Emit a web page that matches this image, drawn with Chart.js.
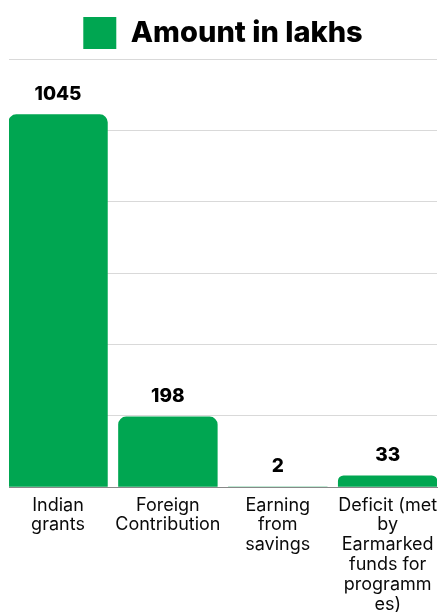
<!DOCTYPE html>
<html>
<head>
<meta charset="utf-8">
<script src="https://cdn.jsdelivr.net/npm/chart.js@4"></script>
<style>
html,body{margin:0;padding:0;background:#fff;}
#wrap{width:444px;height:612px;}
</style>
</head>
<body>
<div id="wrap"><canvas id="c" width="444" height="612"></canvas></div>
<script>
const categories = [
  ["Indian", "grants"],
  ["Foreign", "Contribution"],
  ["Earning", "from", "savings"],
  ["Deficit (met", "by", "Earmarked", "funds for", "programm", "es)"]
];
const seriesName = "Amount in lakhs";
const amounts = [1045, 198, 2, 33];
const yTicks = [0, 200, 400, 600, 800, 1000, 1200];

const GREEN = "#00A651";
const FONT = "Inter";

const valueLabels = {
  id: "valueLabels",
  afterDatasetsDraw(chart) {
    const ctx = chart.ctx;
    const meta = chart.getDatasetMeta(0);
    ctx.save();
    ctx.font = "800 19px " + FONT;
    ctx.fillStyle = "#000";
    ctx.textAlign = "center";
    ctx.textBaseline = "middle";
    meta.data.forEach((bar, i) => {
      ctx.fillText(String(amounts[i]), bar.x, bar.y - 20);
    });
    ctx.restore();
  }
};

new Chart(document.getElementById("c"), {
  type: "bar",
  data: {
    datasets: [{
      label: seriesName,
      data: amounts.map((v, i) => ({ x: i, y: v })),
      backgroundColor: GREEN,
      borderRadius: { topLeft: 8, topRight: 8, bottomLeft: 0, bottomRight: 0 },
      borderSkipped: "bottom",
      barPercentage: 0.905,
      categoryPercentage: 1
    }]
  },
  options: {
    responsive: false,
    animation: false,
    layout: { padding: { left: 9, right: 7, top: 9, bottom: -2 } },
    plugins: {
      tooltip: { enabled: false },
      legend: {
        display: true,
        position: "top",
        labels: {
          boxWidth: 33,
          boxHeight: 32,
          color: "#000",
          padding: 8,
          font: { family: FONT, size: 29, weight: "800" }
        }
      }
    },
    scales: {
      x: {
        type: "linear",
        offset: false,
        min: -0.446,
        max: 3.449,
        afterBuildTicks(scale) {
          scale.ticks = categories.map((c, i) => ({ value: i }));
        },
        grid: { display: false, offset: false },
        border: { display: true, color: "#888", width: 1 },
        ticks: {
          autoSkip: false,
          maxRotation: 0,
          padding: 0,
          color: "#0a0a0a",
          font: { family: FONT, size: 18, lineHeight: 1.1 },
          callback: (v) => categories[v]
        }
      },
      y: {
        min: 0,
        max: 1200,
        afterBuildTicks(scale) {
          scale.ticks = yTicks.map(v => ({ value: v }));
        },
        ticks: { display: false },
        grid: { color: "#d9d9d9", drawTicks: false, lineWidth: 1 },
        border: { display: false }
      }
    }
  },
  plugins: [valueLabels]
});
</script>
</body>
</html>
